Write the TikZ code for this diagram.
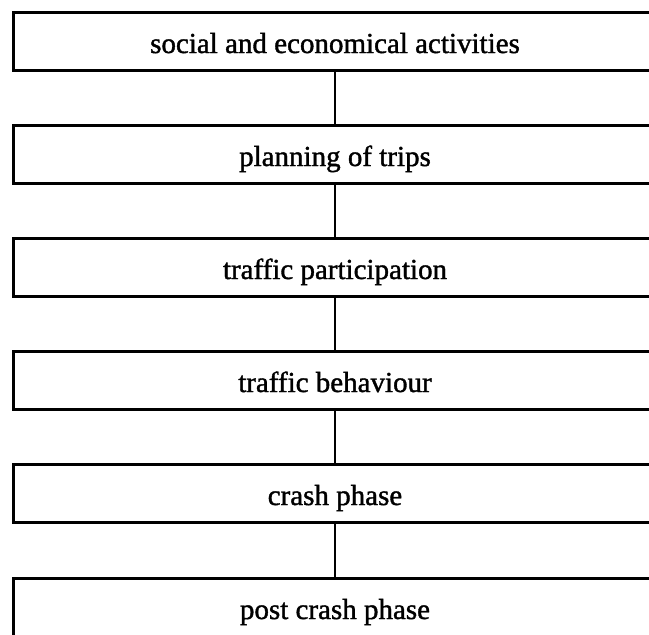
\documentclass[tikz,border=0pt]{standalone}
\usepackage{fontspec}
\setmainfont{Liberation Serif}[BoldFont=Liberation Serif, BoldFeatures={FakeBold=1.3}]
\begin{document}
\begin{tikzpicture}[x=1pt,y=-1pt,
  stagebox/.style={draw=black, line width=3pt, rectangle, minimum width=644pt,
    minimum height=58pt, inner sep=0pt, text height=26pt, text depth=2pt,
    font=\fontsize{29}{34}\selectfont\bfseries},
  conn/.style={draw=black, line width=2.2pt}]
\useasboundingbox (0,0) rectangle (649,635);
\fill[white] (0,0) rectangle (649,635);
\clip (0,0) rectangle (649,635);
\node[stagebox] (b1) at (335,41) {social and economical activities};
\node[stagebox] (b2) at (335,154) {planning of trips};
\node[stagebox] (b3) at (335,267) {traffic participation};
\node[stagebox] (b4) at (335,380) {traffic behaviour};
\node[stagebox] (b5) at (335,493) {crash phase};
\node[stagebox] (b6) at (335,607) {post crash phase};
\draw[conn] (b1) -- (b2);
\draw[conn] (b2) -- (b3);
\draw[conn] (b3) -- (b4);
\draw[conn] (b4) -- (b5);
\draw[conn] (b5) -- (b6);
\end{tikzpicture}
\end{document}
